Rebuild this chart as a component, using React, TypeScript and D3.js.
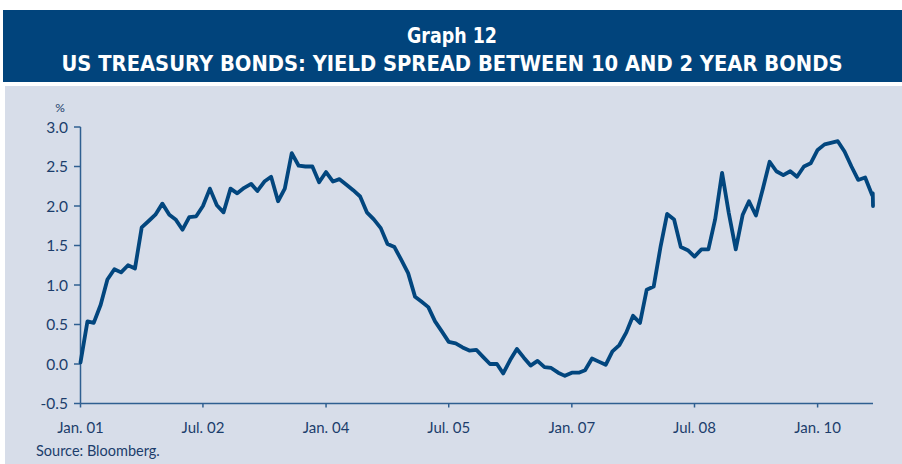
import React from "react";
import * as d3 from "d3";

const startMonth = "2001-01";
const spreadValues: number[] = [
  0.02, 0.54, 0.52, 0.75, 1.07, 1.2, 1.16, 1.25, 1.21, 1.73, 1.81, 1.89,
  2.03, 1.89, 1.83, 1.7, 1.86, 1.87, 2.0, 2.22, 2.01, 1.92, 2.22, 2.16,
  2.23, 2.28, 2.19, 2.31, 2.37, 2.06, 2.22, 2.67, 2.51, 2.5, 2.5, 2.3,
  2.43, 2.31, 2.34, 2.27, 2.2, 2.12, 1.92, 1.83, 1.72, 1.52, 1.48, 1.32,
  1.15, 0.85, 0.79, 0.72, 0.54, 0.41, 0.28, 0.26, 0.21, 0.17, 0.18, 0.09,
  0.0, 0.0, -0.12, 0.05, 0.19, 0.08, -0.02, 0.04, -0.04, -0.05, -0.11, -0.15,
  -0.11, -0.11, -0.08, 0.07, 0.03, -0.01, 0.16, 0.24, 0.4, 0.61, 0.52, 0.94,
  0.98, 1.49, 1.9, 1.83, 1.48, 1.44, 1.36, 1.45, 1.45, 1.83, 2.42, 1.91,
  1.45, 1.89, 2.06, 1.88, 2.21, 2.56, 2.44, 2.39, 2.44, 2.37, 2.5, 2.54,
  2.71, 2.78, 2.8, 2.82, 2.69, 2.5, 2.33, 2.36, 2.14,
];
// last observations of the series (early September 2010)
const tailDates = ["2010-09-04", "2010-09-05"];
const tailValues = [2.16, 2.0];

const yTicks = [-0.5, 0, 0.5, 1, 1.5, 2, 2.5, 3];
const xTickDates = ["2001-01-01", "2002-07-01", "2004-01-01", "2005-07-01", "2007-01-01", "2008-07-01", "2010-01-01"];
const xTickLabels = ["Jan. 01", "Jul. 02", "Jan. 04", "Jul. 05", "Jan. 07", "Jul. 08", "Jan. 10"];
const domainEnd = "2010-09-05";

const titleLine1 = "Graph 12";
const titleLine2 = "US TREASURY BONDS: YIELD SPREAD BETWEEN 10 AND 2 YEAR BONDS";
const sourceText = "Source: Bloomberg.";

const W = 902;
const H = 464;
const parse = d3.timeParse("%Y-%m-%d");

export default function App() {
  const start = d3.timeParse("%Y-%m")(startMonth) as Date;
  const data: { date: Date; v: number }[] = spreadValues.map((v, i) => ({
    date: d3.timeMonth.offset(start, i),
    v,
  }));
  tailDates.forEach((d, i) => data.push({ date: parse(d) as Date, v: tailValues[i] }));

  const x = d3.scaleTime().domain([start, parse(domainEnd) as Date]).range([80.5, 873]);
  const y = d3.scaleLinear().domain([-0.5, 3]).range([403.5, 127]);

  const line = d3
    .line<{ date: Date; v: number }>()
    .x((d) => x(d.date))
    .y((d) => y(d.v))
    .curve(d3.curveLinear);

  const axisColor = "#2f5f91";
  const textColor = "#1c3d6c";
  const labelFont = "Lato, 'Open Sans', sans-serif";
  const titleFont = "'Liberation Sans Narrow', 'DejaVu Sans Condensed', 'DejaVu Sans', sans-serif";

  return (
    <svg width={W} height={H} style={{ position: "absolute", left: 0, top: 0 }}>
      <rect x={0} y={0} width={W} height={H} fill="#ffffff" />
      <rect x={3} y={10} width={W - 3} height={72} fill="#01447c" />
      <rect x={5} y={86} width={W - 5} height={H - 86} fill="#d7dde9" />
      <text
        x={452}
        y={43}
        textAnchor="middle"
        fill="#ffffff"
        fontFamily={titleFont}
        fontWeight="bold"
        fontSize={21}
        textLength={90}
        lengthAdjust="spacingAndGlyphs"
      >
        {titleLine1}
      </text>
      <text
        x={452}
        y={71}
        textAnchor="middle"
        fill="#ffffff"
        fontFamily={titleFont}
        fontWeight="bold"
        fontSize={22}
        textLength={781}
        lengthAdjust="spacingAndGlyphs"
      >
        {titleLine2}
      </text>

      {/* y axis */}
      <line x1={80.5} x2={80.5} y1={y(3)} y2={y(-0.5)} stroke={axisColor} strokeWidth={1.5} />
      {yTicks.map((t) => (
        <g key={t}>
          <line x1={74} x2={80.5} y1={y(t)} y2={y(t)} stroke={axisColor} strokeWidth={1.5} />
          <text
            x={68}
            y={y(t) + 5.5}
            textAnchor="end"
            fill={textColor}
            fontFamily={labelFont}
            fontSize={15.5}
          >
            {t.toFixed(1)}
          </text>
        </g>
      ))}
      <text x={60} y={112} textAnchor="middle" fill={textColor} fontFamily={labelFont} fontSize={12}>
        %
      </text>

      {/* x axis */}
      <line x1={80.5} x2={873} y1={y(-0.5)} y2={y(-0.5)} stroke={axisColor} strokeWidth={1.5} />
      {xTickDates.map((d, i) => {
        const px = x(parse(d) as Date);
        return (
          <g key={d}>
            <line x1={px} x2={px} y1={y(-0.5)} y2={y(-0.5) + 4} stroke={axisColor} strokeWidth={1.5} />
            <text
              x={px}
              y={433}
              textAnchor="middle"
              fill={textColor}
              fontFamily={labelFont}
              fontSize={15}
            >
              {xTickLabels[i]}
            </text>
          </g>
        );
      })}

      <path d={line(data) || ""} fill="none" stroke="#02467e" strokeWidth={3.8} strokeLinejoin="round" strokeLinecap="round" />

      <text x={36} y={456} fill={textColor} fontFamily={labelFont} fontSize={14.5}>
        {sourceText}
      </text>
    </svg>
  );
}
